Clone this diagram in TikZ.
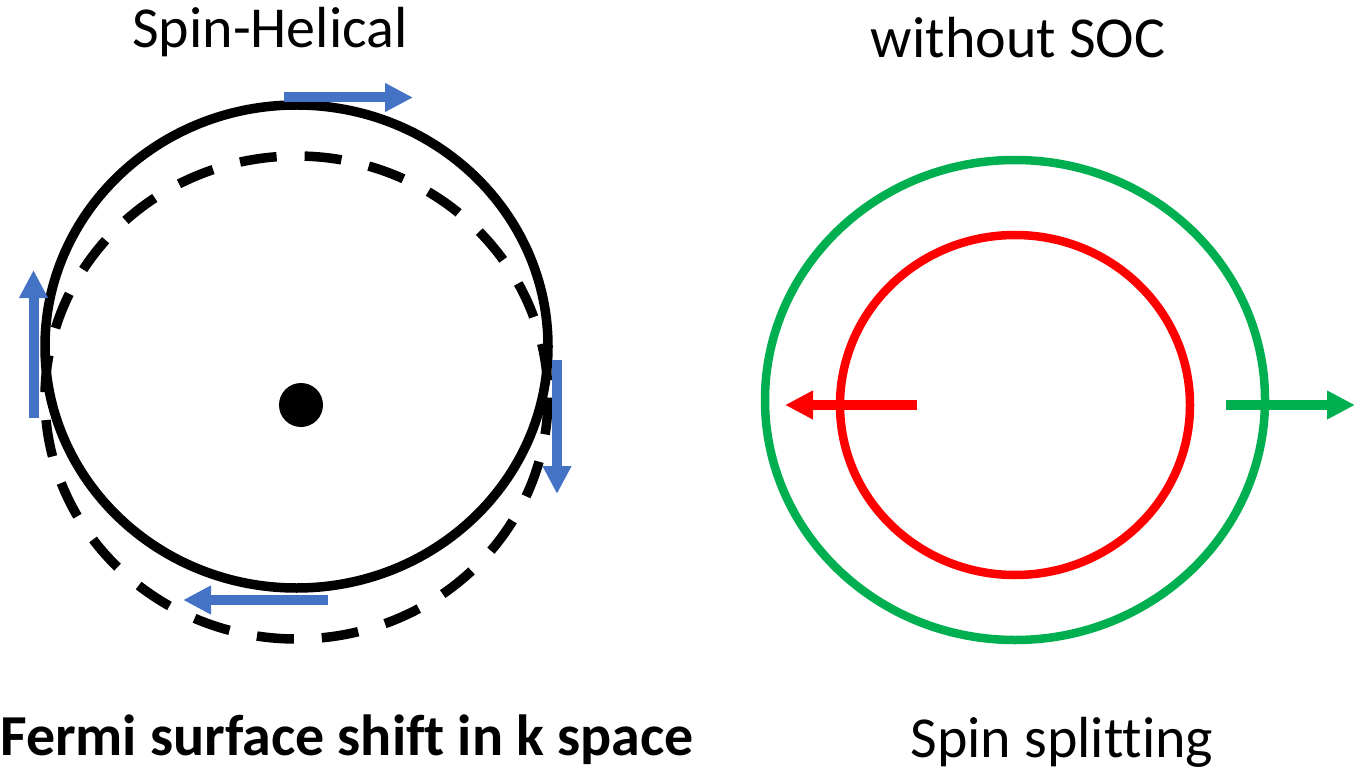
\documentclass[tikz,border=0pt]{standalone}
\usepackage{fontspec}
\setmainfont[Ligatures=NoCommon]{Carlito}
\usetikzlibrary{arrows.meta}
\definecolor{spinblue}{HTML}{4472C4}
\definecolor{outergreen}{HTML}{00B050}
\definecolor{innerred}{HTML}{FF0000}
\tikzset{
  fermi/.style={
    draw=black,
    line width=9.5pt
  },
  shifted/.style={
    fermi,
    dash pattern=on 37pt off 28pt
  },
  band/.style={
    line width=8.5pt
  },
  spin/.style={
    -{Triangle[length=28pt,width=27pt]},
    line width=10pt
  },
  title/.style={
    anchor=base,
    inner sep=0pt,
    font=\fontsize{58}{68}\selectfont
  },
  caption/.style={
    title,
    font=\fontsize{58}{68}\selectfont\bfseries
  }
}

\begin{document}
\begin{tikzpicture}[x=1pt,y=-1pt]
  \useasboundingbox (0,0) rectangle (1360,770);

  % left panel: Fermi surface before and after the shift
  \draw[fermi] (296.5,346.5) ellipse [x radius=251.5, y radius=241.5];
  \draw[shifted] (296.5,397.5) ellipse [x radius=251.5, y radius=241.5];
  \fill (301,405) circle [radius=22];

  \coordinate (topA) at (284,97.5);
  \coordinate (topB) at (413,97.5);
  \coordinate (leftA) at (33.5,418);
  \coordinate (leftB) at (33.5,270);
  \coordinate (rightA) at (557,360);
  \coordinate (rightB) at (557,494);
  \coordinate (bottomA) at (328,600);
  \coordinate (bottomB) at (183,600);

  \draw[spin, spinblue] (topA) -- (topB);
  \draw[spin, spinblue] (leftA) -- (leftB);
  \draw[spin, spinblue] (rightA) -- (rightB);
  \draw[spin, spinblue] (bottomA) -- (bottomB);

  % right panel: split bands
  \draw[band, outergreen] (1015,400) ellipse [x radius=250, y radius=240];
  \draw[band, innerred] (1015,405) ellipse [x radius=175, y radius=170];

  \coordinate (redA) at (917,405);
  \coordinate (redB) at (785,405);
  \coordinate (greenA) at (1226,405);
  \coordinate (greenB) at (1355,405);

  \draw[spin, innerred] (redA) -- (redB);
  \draw[spin, outergreen] (greenA) -- (greenB);

  % labels
  \node[title] (helical) at (270,48) {Spin-Helical};
  \node[title] (nosoc) at (1018,58) {without SOC};
  \node[caption] (shift) at (347,755) {Fermi surface shift in k space};
  \node[title] (split) at (1062,757) {Spin splitting};
\end{tikzpicture}
\end{document}
